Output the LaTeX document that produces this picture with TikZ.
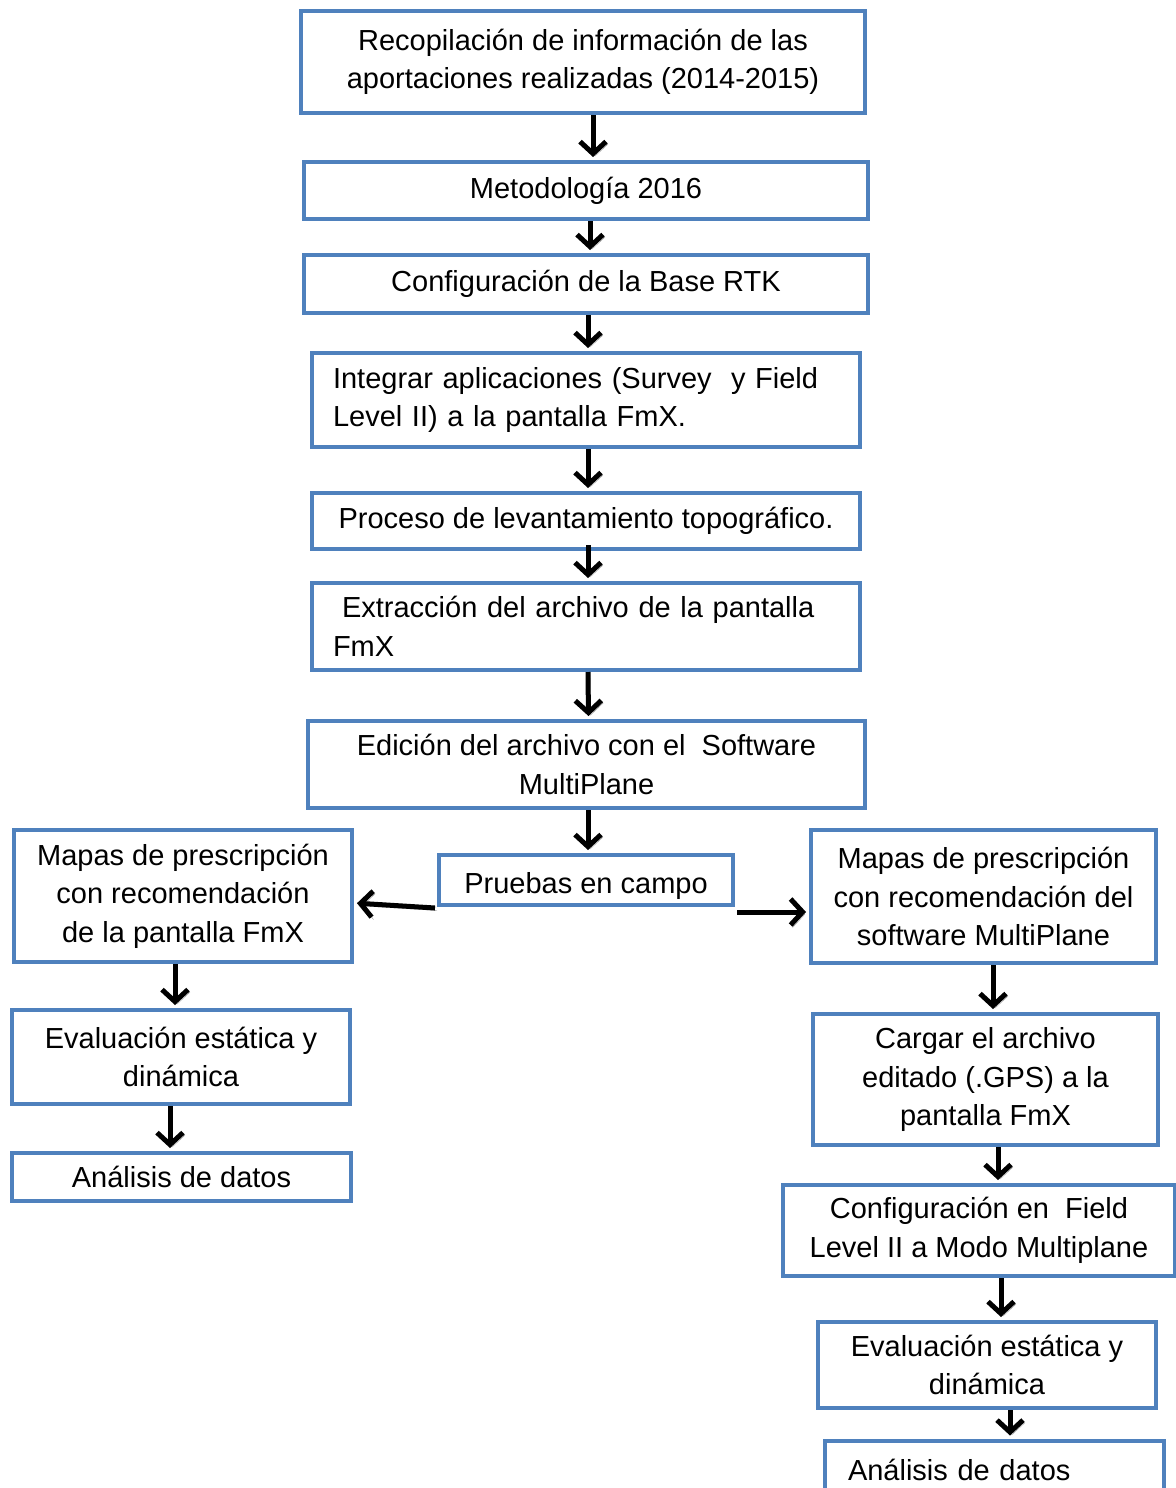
\documentclass[tikz,border=0pt]{standalone}
\usepackage{fontspec}
\setmainfont{Liberation Sans}
\usepackage{tikz}
\usetikzlibrary{arrows.meta}
\definecolor{boxblue}{RGB}{79,129,189}

\begin{document}
\begin{tikzpicture}[x=1pt,y=-1pt]
\tikzset{box/.style = {shape=rectangle,draw=boxblue,line width=4pt,fill=white,inner ysep=0pt,
  font=\fontsize{29}{38.5}\selectfont,align=center}}
\tikzset{lbox/.style = {box,align=left}}
\tikzset{edge/.style = {line width=5pt,-{Straight Barb[length=12pt,width=26pt]},shorten >=3pt,
  preaction={draw=black!40,transform canvas={xshift=2pt,yshift=-2.5pt}}}}
\useasboundingbox (0,0) rectangle (1175,1488);

\node[box,minimum width=564pt,minimum height=102pt] (recop) at (583,62)
  {Recopilación de información de las\\aportaciones realizadas (2014-2015)};
\node[box,minimum width=564pt,minimum height=57pt] (metod) at (586,190.5) {Metodología 2016};
\node[box,minimum width=564pt,minimum height=58pt] (base) at (586,284) {Configuración de la Base RTK};
\node[lbox,text width=506pt,inner xsep=21pt,minimum height=94pt] (integ) at (586,400)
  {Integrar aplicaciones (Survey~ y Field\\Level II) a la pantalla FmX.};
\node[box,minimum width=548pt,minimum height=56pt] (proc) at (586,521) {Proceso de levantamiento topográfico.};
\node[lbox,text width=506pt,inner xsep=21pt,minimum height=87pt] (extr) at (586,626.5)
  {\hspace*{9pt}Extracción del archivo de la pantalla\\FmX};
\node[box,minimum width=557pt,minimum height=87pt] (edic) at (586.5,764.5)
  {Edición del archivo con el~ Software\\MultiPlane};
\node[box,minimum width=294pt,minimum height=50pt,text height=26pt,text depth=0pt] (prue) at (586,880) {Pruebas en campo};

\node[box,minimum width=338pt,minimum height=132pt] (lmap) at (183,896)
  {Mapas de prescripción\\con recomendación\\de la pantalla FmX};
\node[box,minimum width=338pt,minimum height=94pt] (leval) at (181,1057)
  {Evaluación estática y\\dinámica};
\node[box,minimum width=339pt,minimum height=48pt] (lanal) at (181.5,1177) {Análisis de datos};

\node[box,minimum width=345pt,minimum height=133pt] (rmap) at (983.5,896.5)
  {Mapas de prescripción\\con recomendación del\\software MultiPlane};
\node[box,minimum width=345pt,minimum height=131pt] (carg) at (985.5,1079.5)
  {Cargar el archivo\\editado (.GPS) a la\\pantalla FmX};
\node[box,minimum width=392pt,minimum height=91pt] (cfield) at (979,1230.5)
  {Configuración en~ Field\\Level II a Modo Multiplane};
\node[box,minimum width=338pt,minimum height=86pt] (reval) at (987,1365)
  {Evaluación estática y\\dinámica};
\node[lbox,text width=293pt,inner xsep=23pt,minimum height=59pt] (ranal) at (994.5,1470) {Análisis de datos};

\draw[edge] ([xshift=10pt]recop.south) to ([xshift=7pt]metod.north);
\draw[edge] ([xshift=4pt]metod.south) to ([xshift=4pt]base.north);
\draw[edge] ([xshift=2pt]base.south) to ([xshift=2pt]integ.north);
\draw[edge] ([xshift=2pt]integ.south) to ([xshift=2pt]proc.north);
\draw[edge] ([xshift=2pt,yshift=6pt]proc.south) to ([xshift=2pt]extr.north);
\draw[edge] ([xshift=2pt]extr.south) to ([xshift=2pt]edic.north);
\draw[edge] ([xshift=1.5pt]edic.south) to ([xshift=2pt]prue.north);
\draw[edge] ([xshift=-2pt,yshift=-1pt]prue.south west) to ([yshift=-7pt]lmap.east);
\draw[edge] ([xshift=2pt,yshift=-5pt]prue.south east) to ([yshift=-15.5pt]rmap.west);
\draw[edge] ([xshift=-8pt]lmap.south) to ([xshift=-6pt]leval.north);
\draw[edge] ([xshift=-11pt]leval.south) to ([xshift=-11.5pt]lanal.north);
\draw[edge] ([xshift=9.5pt]rmap.south) to ([xshift=7.5pt]carg.north);
\draw[edge] ([xshift=12.5pt]carg.south) to ([xshift=19pt]cfield.north);
\draw[edge] ([xshift=22pt]cfield.south) to ([xshift=14pt]reval.north);
\draw[edge] ([xshift=23pt]reval.south) to ([xshift=15.5pt]ranal.north);
\end{tikzpicture}
\end{document}
